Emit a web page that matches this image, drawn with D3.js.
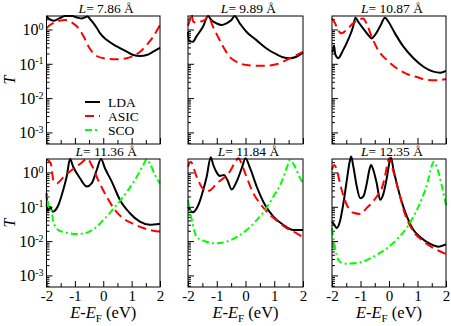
<!DOCTYPE html>
<html><head><meta charset="utf-8">
<script src="https://cdn.jsdelivr.net/npm/d3@7"></script>
<style>
body{margin:0;background:#fff}
svg text{font-family:"Liberation Serif","Times New Roman",Times,"DejaVu Serif",serif !important;fill:#000}
</style>
</head><body>
<svg id="c" width="451" height="326" font-family="Liberation Serif"></svg>
<script>
// ---------------- data ----------------
const lengths = ["7.86", "9.89", "10.87", "11.36", "11.84", "12.35"];
const xMajorTicks = [-2, -1, 0, 1, 2];
const xMinorTicks = [-1.5, -0.5, 0.5, 1.5];
const yMajorTicks = [1e-3, 1e-2, 1e-1, 1];
const yTickExponents = ["-3", "-2", "-1", "0"];
const seriesNames = ["LDA", "ASIC", "SCO"];

// [E - E_F (eV), T]
const lda786 = [[-2.0,2.45],[-1.9,2.0],[-1.74,1.8],[-1.55,2.1],[-1.35,2.45],[-1.1,2.45],[-0.9,2.2],[-0.75,2.1],[-0.55,2.4],[-0.46,1.98],[-0.34,1.51],[-0.22,1.08],[-0.11,0.77],[0.13,0.49],[0.48,0.32],[0.83,0.225],[1.06,0.18],[1.30,0.169],[1.53,0.18],[1.76,0.225],[2.0,0.29]];
const asic786 = [[-2.0,1.08],[-1.9,1.3],[-1.74,1.58],[-1.55,1.8],[-1.33,1.89],[-1.1,1.58],[-0.87,1.08],[-0.69,0.62],[-0.52,0.32],[-0.28,0.18],[0.01,0.145],[0.48,0.135],[0.83,0.145],[1.06,0.169],[1.30,0.225],[1.53,0.35],[1.76,0.62],[2.0,1.35]];

const lda989 = [[-2.0,0.85],[-1.97,0.45],[-1.83,0.44],[-1.71,0.62],[-1.48,1.2],[-1.30,2.45],[-1.19,1.89],[-1.01,1.51],[-0.84,1.35],[-0.66,1.51],[-0.49,1.89],[-0.38,2.45],[-0.20,1.51],[0.03,0.86],[0.38,0.49],[0.73,0.28],[1.07,0.19],[1.30,0.155],[1.54,0.145],[1.77,0.16],[2.0,0.21]];
const asic989 = [[-2.0,1.3],[-1.95,1.7],[-1.88,2.9],[-1.82,1.7],[-1.72,1.6],[-1.59,1.68],[-1.42,1.89],[-1.30,2.4],[-1.13,1.2],[-0.96,0.62],[-0.78,0.32],[-0.55,0.16],[-0.32,0.115],[0.03,0.092],[0.38,0.088],[0.73,0.088],[1.07,0.097],[1.30,0.115],[1.54,0.145],[1.77,0.18],[2.0,0.225]];

const lda1087 = [[-2.0,0.22],[-1.96,0.25],[-1.93,0.34],[-1.89,0.2],[-1.84,0.16],[-1.79,0.145],[-1.61,0.25],[-1.44,0.49],[-1.26,1.2],[-1.18,2.2],[-1.08,1.68],[-0.91,1.08],[-0.73,0.69],[-0.61,0.55],[-0.49,0.69],[-0.32,1.2],[-0.14,2.2],[-0.02,1.68],[0.21,0.77],[0.50,0.32],[0.86,0.145],[1.21,0.082],[1.56,0.059],[1.80,0.055],[2.0,0.062]];
const asic1087 = [[-2.0,2.1],[-1.90,1.55],[-1.79,0.97],[-1.67,0.77],[-1.49,0.97],[-1.26,1.51],[-1.08,1.89],[-0.91,2.1],[-0.79,1.51],[-0.61,0.62],[-0.38,0.25],[-0.08,0.13],[0.27,0.074],[0.62,0.051],[0.98,0.041],[1.33,0.034],[1.68,0.033],[2.0,0.036]];

const lda1136 = [[-2.0,0.25],[-1.95,0.075],[-1.88,0.10],[-1.78,0.072],[-1.58,0.113],[-1.41,0.31],[-1.29,0.75],[-1.17,2.45],[-1.06,1.47],[-0.82,0.68],[-0.58,0.39],[-0.41,0.48],[-0.23,1.18],[-0.08,2.45],[0.06,1.33],[0.30,0.54],[0.59,0.158],[0.94,0.065],[1.29,0.037],[1.64,0.030],[2.0,0.032]];
const asic1136 = [[-2.0,2.4],[-1.85,1.85],[-1.76,0.6],[-1.64,0.48],[-1.41,0.72],[-1.11,1.18],[-0.82,1.77],[-0.56,2.5],[-0.41,1.65],[-0.18,0.6],[0.12,0.197],[0.41,0.081],[0.70,0.046],[1.06,0.032],[1.41,0.024],[1.76,0.020],[2.0,0.019]];
const sco1136 = [[-2.0,0.1],[-1.97,0.2],[-1.93,0.1],[-1.82,0.08],[-1.76,0.037],[-1.58,0.021],[-1.29,0.0176],[-0.94,0.016],[-0.58,0.0176],[-0.29,0.024],[0.0,0.041],[0.30,0.077],[0.59,0.15],[0.88,0.31],[1.18,0.75],[1.41,1.65],[1.53,2.4],[1.64,1.85],[1.82,0.85],[2.0,0.48]];

const lda1184 = [[-2.0,0.10],[-1.84,0.069],[-1.64,0.113],[-1.47,0.31],[-1.35,0.75],[-1.21,2.8],[-1.12,1.65],[-1.0,0.99],[-0.89,0.79],[-0.75,0.85],[-0.63,0.6],[-0.48,0.32],[-0.31,0.54],[-0.13,1.33],[0.0,2.6],[0.16,1.33],[0.39,0.39],[0.68,0.113],[0.97,0.052],[1.31,0.030],[1.66,0.021],[2.0,0.021]];
const asic1184 = [[-2.0,1.47],[-1.91,2.05],[-1.70,0.75],[-1.52,0.37],[-1.37,0.28],[-1.21,0.31],[-1.0,0.48],[-0.77,0.68],[-0.54,1.08],[-0.37,1.94],[-0.25,2.6],[-0.08,1.33],[0.10,0.54],[0.27,0.25],[0.50,0.127],[0.74,0.072],[1.09,0.039],[1.43,0.024],[1.78,0.0169],[2.0,0.013]];
const sco1184 = [[-2.0,0.16],[-1.95,0.093],[-1.84,0.033],[-1.70,0.013],[-1.47,0.0103],[-1.06,0.0086],[-0.65,0.0097],[-0.31,0.013],[0.04,0.021],[0.39,0.041],[0.68,0.08],[0.97,0.2],[1.26,0.54],[1.45,1.47],[1.55,2.3],[1.72,1.47],[1.90,0.68],[2.0,0.48]];

const lda1235 = [[-2.0,0.037],[-1.92,0.030],[-1.83,0.024],[-1.74,0.033],[-1.60,0.127],[-1.48,0.6],[-1.39,1.85],[-1.33,2.9],[-1.25,1.47],[-1.13,0.39],[-1.01,0.177],[-0.90,0.2],[-0.78,0.48],[-0.69,1.18],[-0.63,1.65],[-0.55,1.18],[-0.43,0.48],[-0.31,0.16],[-0.19,0.25],[-0.07,0.75],[0.02,2.05],[0.07,2.7],[0.16,1.18],[0.39,0.2],[0.63,0.052],[0.86,0.021],[1.10,0.013],[1.45,0.0083],[1.74,0.0069],[2.0,0.008]];
const asic1235 = [[-2.0,1.2],[-1.92,1.65],[-1.83,1.18],[-1.72,0.48],[-1.48,0.113],[-1.25,0.067],[-1.01,0.062],[-0.78,0.093],[-0.60,0.13],[-0.43,0.2],[-0.25,0.35],[-0.13,0.85],[-0.04,2.05],[0.02,2.6],[0.14,1.18],[0.34,0.28],[0.57,0.058],[0.86,0.019],[1.22,0.0097],[1.57,0.0062],[2.0,0.0042]];
const sco1235 = [[-2.0,0.024],[-1.92,0.0086],[-1.83,0.0037],[-1.72,0.0025],[-1.48,0.0022],[-1.13,0.0023],[-0.78,0.0028],[-0.43,0.004],[-0.07,0.0062],[0.28,0.0113],[0.63,0.025],[0.92,0.065],[1.16,0.177],[1.36,0.54],[1.49,1.47],[1.57,2.05],[1.69,1.33],[1.86,0.39],[2.0,0.113]];

const ldaSets = [lda786, lda989, lda1087, lda1136, lda1184, lda1235];
const asicSets = [asic786, asic989, asic1087, asic1136, asic1184, asic1235];
const scoSets = [null, null, null, sco1136, sco1184, sco1235];

// ---------------- layout / style ----------------
const FONT = '"Liberation Serif", "Times New Roman", Times, "DejaVu Serif", serif';
const colX = [[46.5, 160], [188, 303], [332, 446]];
const rowY = [[16, 144], [159, 287]];
const yDomain = [4.6e-4, 2.47];
const xDomain = [-2, 2];
const styles = [
  {color: "#000000", dash: null, width: 2},
  {color: "#ff0000", dash: "9,5", width: 2},
  {color: "#00ff00", dash: "7,3,2,3", width: 2}
];

const svg = d3.select("#c");

// minor y ticks
const yMinorTicks = [];
[-4, -3, -2, -1, 0].forEach(e => {
  for (let k = 2; k <= 9; k++) {
    const v = k * Math.pow(10, e);
    if (v >= yDomain[0] && v <= yDomain[1]) yMinorTicks.push(v);
  }
});

lengths.forEach((L, i) => {
  const r = Math.floor(i / 3), c = i % 3;
  const [x0, x1] = colX[c], [y0, y1] = rowY[r];
  const x = d3.scaleLinear().domain(xDomain).range([x0, x1]);
  const y = d3.scaleLog().domain(yDomain).range([y1, y0]);
  const g = svg.append("g");

  // bottom axis (ticks inside)
  const xMaj = g.append("g").attr("transform", `translate(0,${y1})`)
    .call(d3.axisBottom(x).tickValues(xMajorTicks).tickSize(-6).tickPadding(9)
      .tickFormat(r === 1 ? (d => String(d)) : () => ""));
  xMaj.attr("font-family", FONT);
  xMaj.select(".domain").remove();
  xMaj.selectAll("text").attr("font-size", 15).attr("dy", "0.33em").attr("font-family", FONT);
  const xMin = g.append("g").attr("transform", `translate(0,${y1})`)
    .call(d3.axisBottom(x).tickValues(xMinorTicks).tickSize(-4).tickFormat(() => ""));
  xMin.select(".domain").remove();

  // left axis (ticks inside)
  const yMaj = g.append("g").attr("transform", `translate(${x0},0)`)
    .call(d3.axisLeft(y).tickValues(yMajorTicks).tickSize(-6).tickFormat(() => ""));
  yMaj.attr("font-family", FONT);
  yMaj.select(".domain").remove();
  if (c === 0) {
    yMaj.selectAll(".tick").each(function(d, j) {
      const t = d3.select(this).append("text")
        .attr("x", -3).attr("dy", "0.34em").attr("text-anchor", "end")
        .attr("font-size", 16).attr("fill", "#000").attr("font-family", FONT);
      t.append("tspan").text("10");
      t.append("tspan").attr("dy", "-0.55em").attr("font-size", 10).text(yTickExponents[j]);
    });
  }
  const yMin = g.append("g").attr("transform", `translate(${x0},0)`)
    .call(d3.axisLeft(y).tickValues(yMinorTicks).tickSize(-3).tickFormat(() => ""));
  yMin.select(".domain").remove();
  g.selectAll(".tick line").attr("stroke", "#000").attr("stroke-width", 1);

  // curves
  const line = d3.line().x(d => x(d[0])).y(d => y(d[1])).curve(d3.curveMonotoneX);
  [ldaSets[i], asicSets[i], scoSets[i]].forEach((data, s) => {
    if (!data) return;
    g.append("path").attr("d", line(data)).attr("fill", "none")
      .attr("stroke", styles[s].color).attr("stroke-width", styles[s].width)
      .attr("stroke-dasharray", styles[s].dash);
  });

  // frame
  g.append("rect").attr("x", x0).attr("y", y0).attr("width", x1 - x0).attr("height", y1 - y0)
    .attr("fill", "none").attr("stroke", "#000").attr("stroke-width", 1);

  // panel title
  const tt = g.append("text").attr("x", (x0 + x1) / 2 + 3).attr("y", y0 - 3)
    .attr("text-anchor", "middle").attr("font-size", 13.5).attr("font-family", FONT);
  tt.append("tspan").attr("font-style", "italic").text("L");
  tt.append("tspan").text("= " + L + " \u00C5");

  // x title
  if (r === 1) {
    const xt = g.append("text").attr("x", (x0 + x1) / 2).attr("y", 318)
      .attr("text-anchor", "middle").attr("font-size", 16.5).attr("font-family", FONT);
    xt.append("tspan").attr("font-style", "italic").text("E");
    xt.append("tspan").text("-");
    xt.append("tspan").attr("font-style", "italic").text("E");
    xt.append("tspan").attr("font-size", 11).attr("dy", 4).text("F");
    xt.append("tspan").attr("dy", -4).text(" (eV)");
  }
  // y title
  if (c === 0) {
    g.append("text").attr("transform", `translate(15,${(y0 + y1) / 2}) rotate(-90)`)
      .attr("text-anchor", "middle").attr("font-size", 16).attr("font-style", "italic")
      .attr("font-family", FONT).text("T");
  }
});

// legend in first panel
const lg = svg.append("g");
seriesNames.forEach((n, s) => {
  const yy = 102 + s * 14;
  lg.append("line").attr("x1", 85).attr("x2", 100).attr("y1", yy).attr("y2", yy)
    .attr("stroke", styles[s].color).attr("stroke-width", styles[s].width)
    .attr("stroke-dasharray", styles[s].dash);
  lg.append("text").attr("x", 108).attr("y", yy + 4.5).attr("font-size", 13.5)
    .attr("font-family", FONT).text(n);
});
</script>
</body></html>
